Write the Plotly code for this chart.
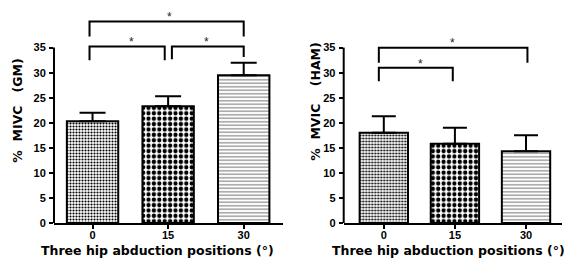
import plotly.graph_objects as go

categories = ["0", "15", "30"]
gm_mean = [20.3, 23.3, 29.5]
gm_sd = [1.7, 2.0, 2.5]
ham_mean = [18.0, 15.8, 14.3]
ham_sd = [3.3, 3.2, 3.2]
y_ticks = [0, 5, 10, 15, 20, 25, 30, 35]
x_title = "Three hip abduction positions (°)"
gm_title = "%\u00a0\u00a0MIVC\u00a0\u00a0\u00a0(GM)"
ham_title = "%\u00a0\u00a0MVIC\u00a0\u00a0\u00a0\u00a0(HAM)"

W, H = 572, 266
FONT = "Liberation Sans"
TFONT = "DejaVu Sans"

pattern = dict(shape=[".", ".", "-"], size=[3, 5.4, 3.5], solidity=[0.4, 0.5, 0.3],
               fgcolor=["#000000", "#000000", "#777777"], bgcolor="white", fillmode="replace")

fig = go.Figure()
for i, (mean, sd, cap) in enumerate([(gm_mean, gm_sd, 13), (ham_mean, ham_sd, 12)]):
    ax = "" if i == 0 else "2"
    fig.add_trace(go.Bar(
        x=categories, y=mean, width=0.68,
        marker=dict(color="white", line=dict(color="black", width=2), pattern=pattern),
        error_y=dict(type="data", array=sd, arrayminus=[0] * len(sd), symmetric=False,
                     color="black", thickness=2, width=cap),
        xaxis="x" + ax, yaxis="y" + ax, showlegend=False,
    ))

ydom = [1 - 220 / H, 1]
yr = [0, 42.9]
axis_common = dict(showgrid=False, zeroline=False, ticks="outside", ticklen=4, tickwidth=2,
                   tickcolor="black", tickfont=dict(family=FONT, size=11, color="black", weight="bold"))
fig.update_layout(
    width=W, height=H, margin=dict(l=0, r=0, t=0, b=0),
    paper_bgcolor="white", plot_bgcolor="white", bargap=0.32,
    xaxis=dict(domain=[46 / W, 275 / W], range=[-0.51, 2.52], showline=True, linewidth=2,
               linecolor="black", ticklabelstandoff=-3, **axis_common),
    xaxis2=dict(domain=[335.7 / W, 554 / W], range=[-0.564, 2.506], showline=True, linewidth=2,
                linecolor="black", anchor="y2", ticklabelstandoff=-3, **axis_common),
    yaxis=dict(domain=ydom, range=yr, tickvals=y_ticks, showline=False, ticklabelstandoff=1,
               **axis_common),
    yaxis2=dict(domain=ydom, range=yr, tickvals=y_ticks, showline=False, anchor="x2",
                ticklabelstandoff=1, **axis_common),
)

# y axis lines (only up to 35)
for ax in ["", "2"]:
    fig.add_shape(type="line", xref="x" + ax + " domain", yref="y" + ax, x0=0, x1=0, y0=0, y1=35,
                  line=dict(color="black", width=2))

def bracket(ax, xa, xb, y, la, lb, star_x, star_y):
    fig.add_shape(type="path", xref="x" + ax, yref="y" + ax,
                  path=f"M {xa},{la} L {xa},{y} L {xb},{y} L {xb},{lb}",
                  line=dict(color="black", width=2))
    fig.add_annotation(x=star_x, y=star_y, xref="x" + ax, yref="y" + ax, text="*", showarrow=False,
                       font=dict(family=FONT, size=12, color="#222222"), yanchor="middle")

bracket("", -0.04, 2.0, 40.2, 37.2, 37.2, 1.02, 41.2)
bracket("", -0.04, 0.955, 35.2, 32.5, 32.5, 0.51, 36.1)
bracket("", 1.05, 2.0, 35.2, 32.7, 33.1, 1.51, 36.1)
bracket("2", -0.07, 2.02, 34.95, 32.0, 32.0, 0.97, 36.0)
bracket("2", -0.07, 0.97, 31.0, 28.3, 28.3, 0.51, 31.8)

title_font = dict(family=TFONT, size=12.5, color="black", weight="bold")
fig.add_annotation(x=149 / W, y=1 - 248 / H, xref="paper", yref="paper", text=x_title,
                   showarrow=False, font=title_font, xanchor="center", yanchor="middle")
fig.add_annotation(x=440 / W, y=1 - 248 / H, xref="paper", yref="paper", text=x_title,
                   showarrow=False, font=title_font, xanchor="center", yanchor="middle")
fig.add_annotation(x=10 / W, y=1 - 105 / H, xref="paper", yref="paper", text=gm_title,
                   showarrow=False, font=title_font, textangle=-90, xanchor="center", yanchor="middle")
fig.add_annotation(x=308 / W, y=1 - 96 / H, xref="paper", yref="paper", text=ham_title,
                   showarrow=False, font=title_font, textangle=-90, xanchor="center", yanchor="middle")

fig.write_html("out.html")
